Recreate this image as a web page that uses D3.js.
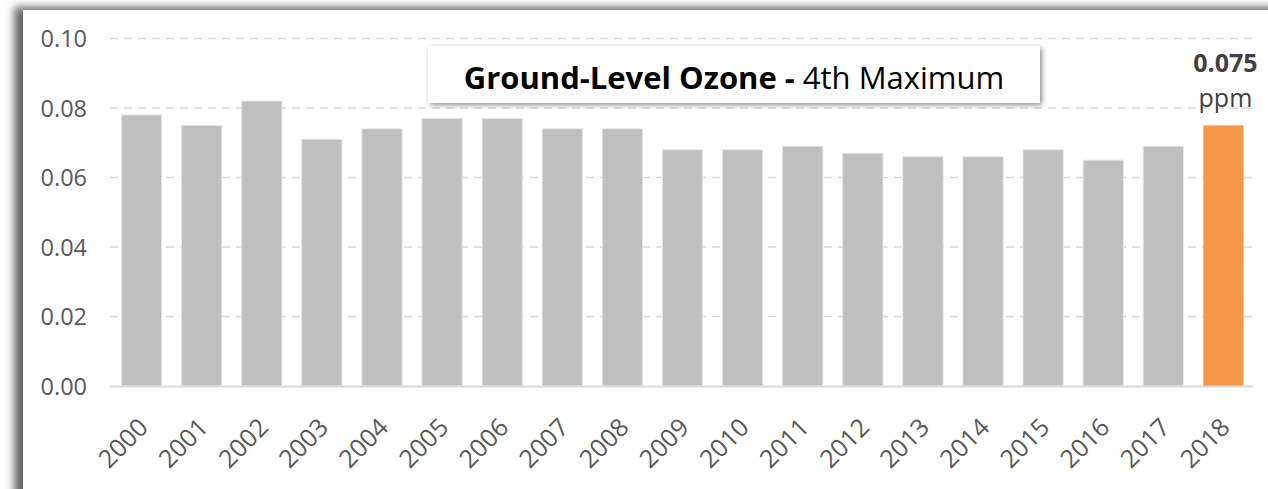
<!DOCTYPE html>
<html>
<head>
<meta charset="utf-8">
<script src="https://cdn.jsdelivr.net/npm/d3@7"></script>
<style>
  body { margin: 0; background: #fff; }
  text { font-family: "Open Sans", "Noto Sans", sans-serif; }
</style>
</head>
<body>
<svg id="my_svg"></svg>
<script>
const width = 1268;
const height = 489;

const years = ["2000", "2001", "2002", "2003", "2004", "2005", "2006", "2007", "2008", "2009",
  "2010", "2011", "2012", "2013", "2014", "2015", "2016", "2017", "2018"];
const values = [0.078, 0.075, 0.082, 0.071, 0.074, 0.077, 0.077, 0.074, 0.074, 0.068,
  0.068, 0.069, 0.067, 0.066, 0.066, 0.068, 0.065, 0.069, 0.075];
const yTicks = [0, 0.02, 0.04, 0.06, 0.08, 0.10];
const highlightYear = "2018";

const svg = d3.select('#my_svg')
  .attr('width', width)
  .attr('height', height);

const defs = svg.append('defs');
// 卡片阴影
defs.append('filter')
  .attr('id', 'cardShadow')
  .attr('x', '-5%').attr('y', '-10%').attr('width', '110%').attr('height', '120%')
  .append('feDropShadow')
  .attr('dx', -9).attr('dy', -3)
  .attr('stdDeviation', 4.5)
  .attr('flood-color', '#000')
  .attr('flood-opacity', 0.6);

defs.append('filter')
  .attr('id', 'boxShadow')
  .attr('x', '-10%').attr('y', '-30%').attr('width', '120%').attr('height', '160%')
  .append('feDropShadow')
  .attr('dx', 2).attr('dy', 2)
  .attr('stdDeviation', 2.5)
  .attr('flood-color', '#000')
  .attr('flood-opacity', 0.45);

svg.append('rect')
  .attr('x', 0).attr('y', 0)
  .attr('width', width).attr('height', height)
  .attr('fill', '#fff');

svg.append('rect')
  .attr('x', 23).attr('y', 10)
  .attr('width', width + 20).attr('height', height + 20)
  .attr('fill', '#fff')
  .attr('filter', 'url(#cardShadow)');

const x = d3.scaleBand()
  .domain(years)
  .range([111.5, 1253.5])
  .paddingInner(0.33)
  .paddingOuter(0.165);

const y = d3.scaleLinear()
  .domain([0, 0.10])
  .range([386, 38.5]);

// 网格线
svg.append('g')
  .selectAll('line')
  .data(yTicks.filter(d => d > 0))
  .enter()
  .append('line')
  .attr('x1', 110)
  .attr('x2', 1253)
  .attr('y1', d => y(d))
  .attr('y2', d => y(d))
  .attr('stroke', '#d9d9d9')
  .attr('stroke-width', 1.5)
  .attr('stroke-dasharray', '8,6');

// 纵坐标
const yAxis = d3.axisLeft(y)
  .tickValues(yTicks)
  .tickSize(0)
  .tickPadding(0)
  .tickFormat(d3.format('.2f'));

const yG = svg.append('g')
  .attr('transform', 'translate(87, 0)')
  .call(yAxis);
yG.select('.domain').remove();
yG.selectAll('text')
  .attr('font-size', 23.5)
  .attr('fill', '#595959')
  .attr('dy', '0.36em');

// 柱子
svg.append('g')
  .selectAll('rect')
  .data(years)
  .enter()
  .append('rect')
  .attr('x', d => x(d))
  .attr('y', (d, i) => y(values[i]))
  .attr('width', x.bandwidth())
  .attr('height', (d, i) => y(0) - y(values[i]))
  .attr('fill', d => d === highlightYear ? '#f79646' : '#bfbfbf')
  .attr('stroke', d => d === highlightYear ? 'none' : '#e6e6e6')
  .attr('stroke-width', 1);

// 横坐标基线
svg.append('line')
  .attr('x1', 110).attr('x2', 1253)
  .attr('y1', y(0) + 0.5).attr('y2', y(0) + 0.5)
  .attr('stroke', '#d9d9d9')
  .attr('stroke-width', 2);

// 横坐标
const xAxis = d3.axisBottom(x).tickSize(0).tickPadding(0);
const xG = svg.append('g')
  .attr('transform', `translate(0, ${y(0)})`)
  .call(xAxis);
xG.select('.domain').remove();
xG.selectAll('text')
  .attr('font-size', 25)
  .attr('fill', '#595959')
  .attr('text-anchor', 'end')
  .attr('dy', 0)
  .attr('transform', 'translate(8, 43) rotate(-45)');

// 标题框
svg.append('rect')
  .attr('x', 428).attr('y', 46)
  .attr('width', 612).attr('height', 57)
  .attr('fill', '#fff')
  .attr('filter', 'url(#boxShadow)');

const title = svg.append('text')
  .attr('x', 734)
  .attr('y', 89)
  .attr('text-anchor', 'middle')
  .attr('font-size', 31)
  .attr('fill', '#000');
title.append('tspan').attr('font-weight', 'bold').text('Ground-Level Ozone - ');
title.append('tspan').text('4th Maximum');

// 2018 数值标签
const lastIdx = years.indexOf(highlightYear);
const lx = x(highlightYear) + x.bandwidth() / 2;
svg.append('text')
  .attr('x', lx + 2)
  .attr('y', 72)
  .attr('text-anchor', 'middle')
  .attr('font-size', 25)
  .attr('font-weight', 'bold')
  .attr('fill', '#404040')
  .text(d3.format('.3f')(values[lastIdx]));

svg.append('text')
  .attr('x', lx + 2)
  .attr('y', 107)
  .attr('text-anchor', 'middle')
  .attr('font-size', 25)
  .attr('fill', '#404040')
  .text('ppm');
</script>
</body>
</html>
